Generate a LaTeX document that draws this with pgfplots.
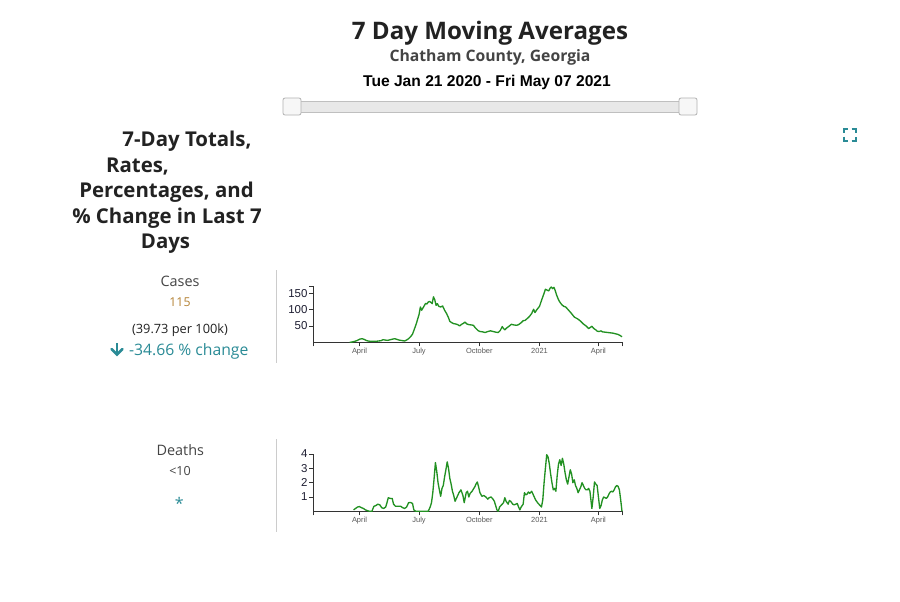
\documentclass[border=0pt]{standalone}
\usepackage{pgfplots}
\pgfplotsset{compat=1.18}
\usepackage{fontspec}
\setmainfont{Open Sans}
\newfontfamily\arial{Liberation Sans}
\definecolor{linegreen}{RGB}{34,145,34}
\definecolor{teal2}{RGB}{42,139,150}
\definecolor{gold2}{RGB}{180,130,52}
\definecolor{txt}{RGB}{34,34,34}
\definecolor{txt2}{RGB}{68,68,68}
\definecolor{ticklab}{RGB}{30,30,50}

\pgfplotsset{
  dash/.style={
    scale only axis, clip=false,
    width=309*0.75pt,
    xmin=20, xmax=492,
    ymin=0,
    axis lines=left,
    axis line style={-, draw=black!80, line width=0.7pt},
    tick align=outside,
    major tick length=3pt,
    tick style={draw=black!80, line width=0.6pt},
    xtick={91,182,274,366,456},
    xticklabels={April,July,October,2021,April},
    extra x ticks={20,492},
    extra x tick labels={},
    xticklabel style={font=\arial\fontsize{5.6}{6}\selectfont, text=black!65, inner sep=1.5pt},
    yticklabel style={font=\arial\fontsize{8.6}{9}\selectfont, text=ticklab, inner sep=1pt},
    /pgf/number format/assume math mode=true,
  },
  trend/.style={draw=linegreen, line width=1pt, mark=none, line join=round},
}

\begin{document}
\begin{tikzpicture}
\begin{scope}[x=0.75pt,y=-0.75pt]
  \fill[white] (0,0) rectangle (900,601);
  % header
  \node[anchor=base, inner sep=0, text=txt, font=\bfseries\fontsize{18.1}{20}\selectfont] at (490,39.3) {7 Day Moving Averages};
  \node[anchor=base, inner sep=0, text=txt2, font=\bfseries\fontsize{11.8}{13}\selectfont] at (490,61) {Chatham County, Georgia};
  \node[anchor=base, inner sep=0, text=black, font=\arial\bfseries\fontsize{11.7}{13}\selectfont] at (487,86) {Tue Jan 21 2020 - Fri May 07 2021};
  % slider
  \draw[fill=black!9, draw=black!25, line width=0.6pt] (292,101) rectangle (688,112);
  \draw[fill=black!3, draw=black!30, line width=0.6pt, rounded corners=1.5pt] (283,98) rectangle (301,115);
  \draw[fill=black!3, draw=black!30, line width=0.6pt, rounded corners=1.5pt] (679,98) rectangle (697,115);
  % expand icon
  \begin{scope}[draw=teal2, line width=1.5pt]
    \draw (843.5,132.5)--(843.5,128.5)--(847.5,128.5);
    \draw (851.5,128.5)--(855.5,128.5)--(855.5,132.5);
    \draw (843.5,136.5)--(843.5,140.5)--(847.5,140.5);
    \draw (851.5,140.5)--(855.5,140.5)--(855.5,136.5);
  \end{scope}
  % left heading
  \begin{scope}[every node/.style={anchor=base, inner sep=0, text=txt, font=\bfseries\fontsize{15.3}{17}\selectfont}]
    \node at (187,146) {7-Day Totals,};
    \node at (137.5,172) {Rates,};
    \node at (166.5,197) {Percentages, and};
    \node at (167,223) {\% Change in Last 7};
    \node at (165.5,248) {Days};
  \end{scope}
  % cases block
  \node[anchor=base, inner sep=0, text=txt2, font=\fontsize{10.8}{12}\selectfont] at (180,286.5) {Cases};
  \node[anchor=base, inner sep=0, text=gold2, font=\fontsize{9.2}{11}\selectfont] at (180,306) {115};
  \node[anchor=base, inner sep=0, text=txt, font=\fontsize{9.6}{11}\selectfont] at (180,333) {(39.73 per 100k)};
  \node[anchor=base, inner sep=0, text=teal2, font=\fontsize{11.8}{13}\selectfont] at (188.7,355) {-34.66 \% change};
  \draw[teal2, line width=1.9pt] (117,343)--(117,354);
  \draw[teal2, line width=1.9pt, line cap=round, line join=miter] (111.5,349)--(117,354.5)--(122.5,349);
  \draw[black!20, line width=0.75pt] (276,270)--(276,363);
  % deaths block
  \node[anchor=base, inner sep=0, text=txt2, font=\fontsize{10.8}{12}\selectfont] at (180.3,455) {Deaths};
  \node[anchor=base, inner sep=0, text=txt2, font=\fontsize{9.4}{11}\selectfont] at (180,475) {<10};
  \node[anchor=base, inner sep=0, text=teal2, font=\fontsize{12}{13}\selectfont] at (179.2,509) {*};
  \draw[black!20, line width=0.75pt] (276,439)--(276,532);
\end{scope}

% cases chart
\begin{axis}[dash,
  at={(313*0.75pt,-342.3*0.75pt)}, anchor=south west,
  height=56.3*0.75pt, ymax=172,
  ytick={50,100,150},
  extra y ticks={172}, extra y tick labels={},
]
\addplot[trend] table {
x y
76 0
80 1
84 3
88 6
92 10
95 11
98 9
101 6
104 4
108 3
112 3
116 3
120 4
124 5
127 8
130 7
134 6
138 8
142 10
145 11
148 9
151 7
154 6
157 5
160 4
163 7
166 11
169 17
172 25
175 41
178 58
180 72
182 85
184 108
186 98
188 105
190 112
192 119
194 117
196 123
198 125
200 122
202 118
204 139
206 130
208 113
210 118
212 110
215 108
218 111
221 98
224 88
227 75
229 64
232 60
235 57
238 56
241 54
244 50
247 55
250 58
252 62
255 56
258 54
262 53
265 52
268 44
272 36
275 33
279 32
283 30
287 33
291 35
295 33
299 31
303 30
306 36
309 48
311 42
313 38
316 44
320 50
323 55
327 53
331 52
334 54
338 60
341 66
344 67
348 74
351 80
354 88
357 101
359 91
362 100
366 110
368 122
371 139
373 150
375 162
377 160
380 157
382 165
384 169
386 164
388 168
390 158
392 145
395 130
397 123
400 115
403 110
406 108
410 99
414 90
418 80
420 76
423 73
426 69
429 64
431 60
433 56
437 50
441 42
444 46
446 49
449 42
452 38
454 34
457 33
460 35
462 32
466 31
470 30
474 29
478 28
482 26
486 24
489 21
492 17
};
\end{axis}

% deaths chart
\begin{axis}[dash,
  at={(313*0.75pt,-511.3*0.75pt)}, anchor=south west,
  height=57.3*0.75pt, ymax=4,
  ytick={1,2,3,4},
]
\addplot[trend] table {
x y
82 0.1
85 0.2
88 0.3
91 0.33
94 0.25
97 0.2
100 0.1
103 0.05
106 0
110 0
113 0.35
116 0.4
119 0.5
122 0.45
125 0.25
128 0.2
131 0.3
133 0.6
135 0.95
138 0.9
141 0.9
143 0.5
146 0.35
150 0.35
154 0.35
157 0.25
160 0.2
163 0.3
166 0.6
169 0.62
172 0.55
174 0.1
177 0
181 0
186 0
191 0
196 0
199 0.3
201 0.6
203 1.3
205 2.3
207 3.4
209 2.8
211 2.0
213 1.5
215 1.05
217 1.6
219 1.8
221 2.4
223 2.9
225 3.45
227 3.0
229 2.3
231 1.9
233 1.4
235 1.1
237 0.7
240 1.0
243 1.3
246 1.5
249 1.1
251 0.6
254 1.3
256 1.4
258 1.0
260 1.25
263 1.4
265 1.55
267 1.7
269 1.9
271 2.05
273 1.7
275 1.3
278 1.05
281 1.1
284 1.0
287 0.85
289 0.95
292 1.0
295 0.85
297 0.7
299 0.4
301 0.1
303 0
305 0.3
308 0.45
311 0.6
313 0.95
315 0.7
318 0.5
320 0.75
322 0.7
325 0.5
327 0.45
330 0.5
332 0.55
334 0.3
336 0.1
338 0.3
341 0.5
343 1.3
345 1.15
347 1.2
349 1.35
351 1.25
354 1.4
356 1.2
358 1.0
360 0.8
363 0.6
366 0.45
369 0.3
371 0.8
373 2.0
375 3.0
377 3.95
379 3.8
381 3.3
383 2.6
385 2.0
387 1.5
389 1.6
391 1.4
393 2.5
395 3.3
397 3.6
399 3.2
401 3.7
403 3.3
405 2.7
407 2.2
409 1.9
411 2.4
413 2.9
415 2.6
417 2.0
419 2.2
421 1.8
423 1.6
425 1.3
427 1.5
429 1.7
431 2.0
433 1.8
435 1.6
437 1.5
439 1.5
441 1.6
443 1.4
445 0.6
446 0.2
448 1.0
450 2.05
452 1.9
454 1.8
456 1.0
458 0.2
460 0.4
462 0.8
464 1.0
466 0.95
468 0.9
470 1.0
472 1.2
474 1.35
476 1.4
478 1.35
480 1.5
482 1.7
484 1.8
486 1.75
488 1.5
490 0.8
492 0
};
\end{axis}
\end{tikzpicture}
\end{document}
